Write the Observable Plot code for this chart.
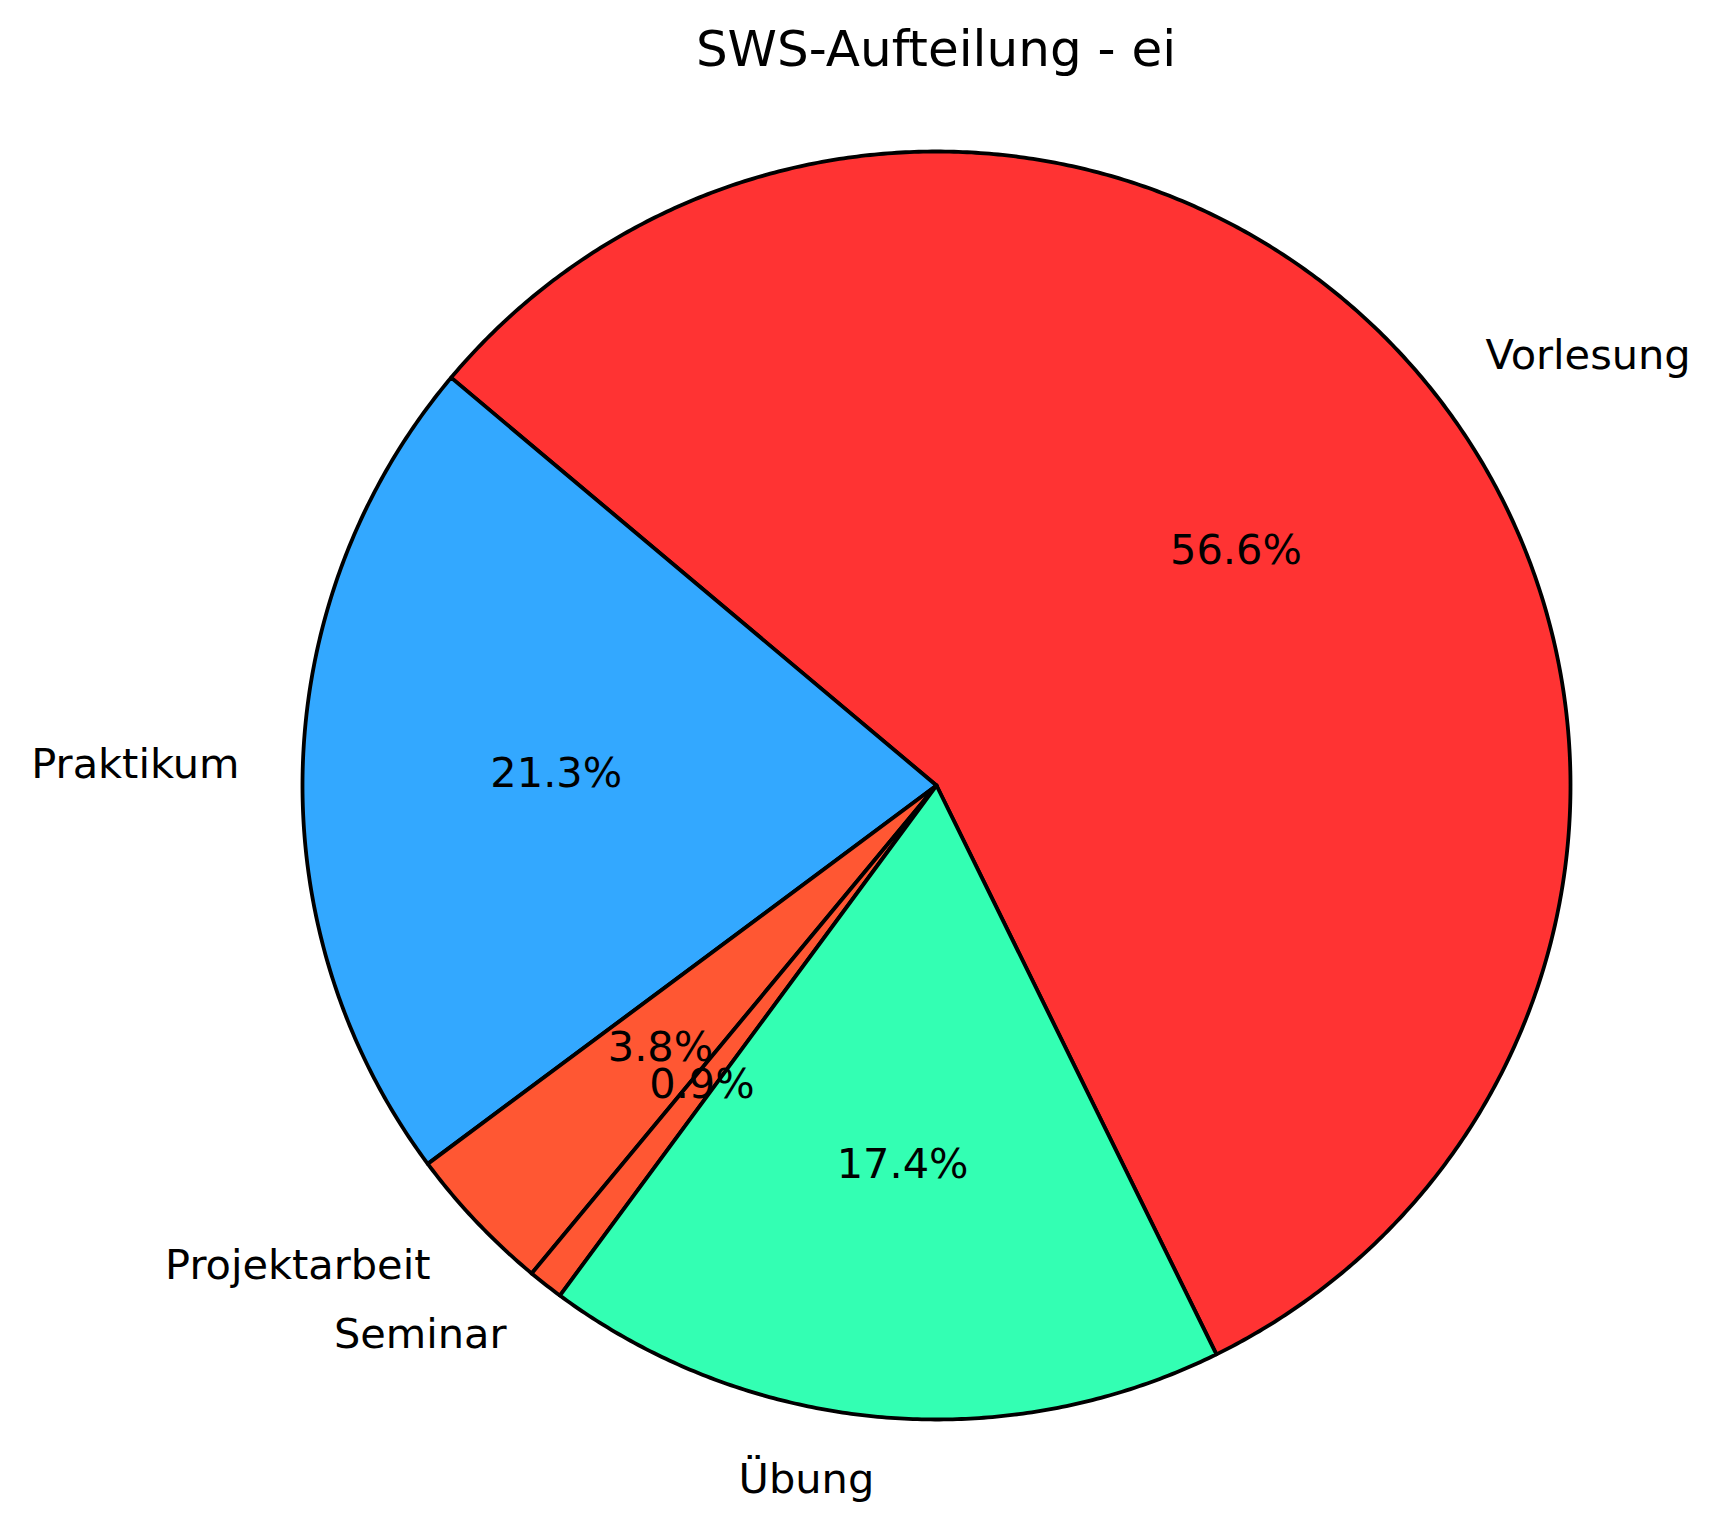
<!DOCTYPE html>
<html><head><meta charset="utf-8">
<script src="https://cdn.jsdelivr.net/npm/d3@7"></script>
<script src="https://cdn.jsdelivr.net/npm/@observablehq/plot@0.6"></script>
<style>
body{margin:0;background:#fff;font-family:"DejaVu Sans",sans-serif}
#title{position:relative;width:1720px;height:100px}
#title span{position:absolute;left:936px;top:24px;transform:translateX(-50%);font-size:50px;line-height:50px;white-space:nowrap;color:#000}
</style></head><body>
<div id="title"><span>SWS-Aufteilung - ei</span></div>
<div id="chart"></div>
<script>
const categories = ["Vorlesung", "Praktikum", "Projektarbeit", "Seminar", "Übung"];
const shares = [56.6, 21.3, 3.8, 0.9, 17.4];
const colors = ["#ff3333", "#33a8ff", "#ff5733", "#ff5733", "#33ffb3"];

const W = 1720, H = 1434, cx = 936, cy = 685, R = 634;
const startDeg = -63.8;
const total = d3.sum(shares);
const fmt = d3.format(".1f");

const slices = [];
let a = startDeg * Math.PI / 180;
shares.forEach((v, i) => {
  const span = v / total * 2 * Math.PI;
  slices.push({key: categories[i], color: colors[i], a0: a, a1: a + span, mid: a + span / 2, pct: fmt(v / total * 100) + "%"});
  a += span;
});

const poly = [];
for (const s of slices) {
  const n = Math.max(2, Math.ceil((s.a1 - s.a0) / (0.4 * Math.PI / 180)));
  poly.push({key: s.key, color: s.color, x: 0, y: 0});
  for (let k = 0; k <= n; k++) {
    const t = s.a0 + (s.a1 - s.a0) * k / n;
    poly.push({key: s.key, color: s.color, x: Math.cos(t), y: Math.sin(t)});
  }
}

const labels = slices.map(s => ({text: s.key, x: 1.1 * Math.cos(s.mid), y: 1.1 * Math.sin(s.mid)}));
const pcts = slices.map(s => ({text: s.pct, x: 0.6 * Math.cos(s.mid), y: 0.6 * Math.sin(s.mid)}));

const FS = 41.5;
const chart = Plot.plot({
  width: W, height: H, margin: 0,
  style: {background: "#fff", fontFamily: "DejaVu Sans"},
  x: {domain: [-cx / R, (W - cx) / R], range: [0, W]},
  y: {domain: [-(H - cy) / R, cy / R], range: [H, 0]},
  axis: null,
  color: {type: "identity"},
  marks: [
    Plot.line(poly, {x: "x", y: "y", z: "key", fill: "color", stroke: "#000", strokeWidth: 3.8, strokeLinejoin: "round", curve: "linear-closed"}),
    Plot.text(labels.filter(d => d.x >= 0), {x: "x", y: "y", text: "text", textAnchor: "start", fontSize: FS, fill: "#000", fontFamily: "DejaVu Sans"}),
    Plot.text(labels.filter(d => d.x < 0), {x: "x", y: "y", text: "text", textAnchor: "end", fontSize: FS, fill: "#000", fontFamily: "DejaVu Sans"}),
    Plot.text(pcts, {x: "x", y: "y", text: "text", fontSize: FS, fill: "#000", fontFamily: "DejaVu Sans"})
  ]
});
document.getElementById("chart").appendChild(chart);
</script>
</body></html>
